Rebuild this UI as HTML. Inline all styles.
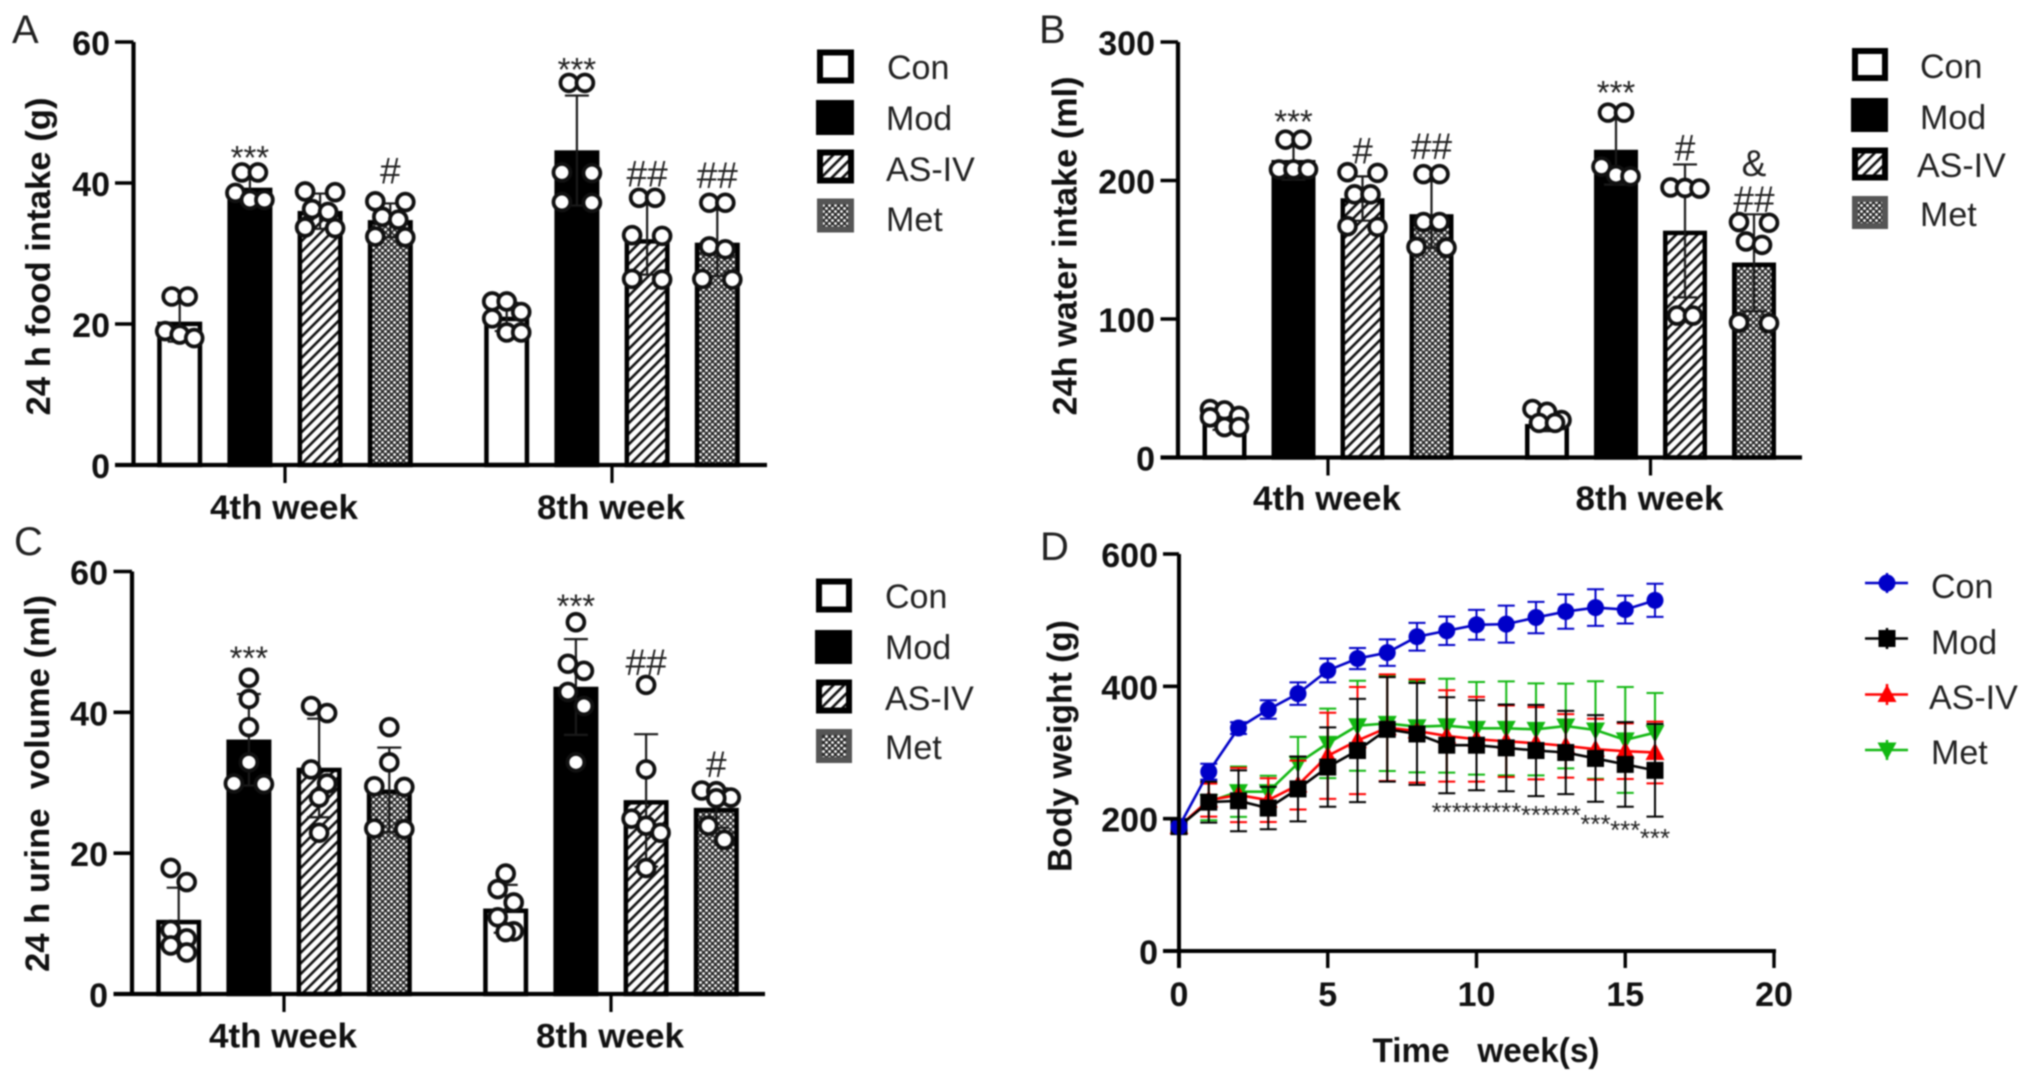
<!DOCTYPE html>
<html lang="en">
<head>
<meta charset="utf-8">
<title>Four-panel intake and body weight chart</title>
<style>
html,body{margin:0;padding:0;background:#fff;width:2031px;height:1082px;overflow:hidden}
svg{display:block;filter:blur(0.7px)}
text{font-family:"Liberation Sans",Arial,sans-serif;fill:#111}
.tick{font-weight:bold;font-size:34px}
.cat{font-weight:bold;font-size:34px;text-anchor:middle}
.title{font-weight:bold;font-size:34px;text-anchor:middle}
.leg{font-size:34px;fill:#222}
.letter{font-size:40px;fill:#222}
</style>
</head>
<body>
<svg id="figure" xmlns="http://www.w3.org/2000/svg" width="2031" height="1082" viewBox="0 0 2031 1082">
<defs>
<pattern id="hatch" width="7.5" height="7.5" patternUnits="userSpaceOnUse" patternTransform="rotate(45)">
<rect width="7.5" height="7.5" fill="#fff"/><rect width="2.6" height="7.5" fill="#111"/>
</pattern>
<pattern id="dots" width="6" height="6" patternUnits="userSpaceOnUse">
<rect width="6" height="6" fill="#2a2a2a"/><circle cx="1.5" cy="1.5" r="1.4" fill="#fff"/><circle cx="4.5" cy="4.5" r="1.4" fill="#fff"/>
</pattern>
</defs>
<rect width="2031" height="1082" fill="#fff"/>

<text class="letter" x="12" y="43">A</text>
<text class="letter" x="1039" y="43">B</text>
<text class="letter" x="14" y="555">C</text>
<text class="letter" x="1040" y="560">D</text>

<text class="title" transform="translate(50,256.5) rotate(-90)" textLength="318" lengthAdjust="spacingAndGlyphs">24 h food intake (g)</text>
<text class="title" transform="translate(1076.5,246) rotate(-90)" textLength="339" lengthAdjust="spacingAndGlyphs">24h water intake (ml)</text>
<text class="title" xml:space="preserve" transform="translate(49,783.5) rotate(-90)" textLength="377" lengthAdjust="spacingAndGlyphs">24 h urine  volume (ml)</text>
<text class="title" transform="translate(1071.5,746) rotate(-90)" textLength="252" lengthAdjust="spacingAndGlyphs">Body weight (g)</text>
<text class="title" xml:space="preserve" x="1486" y="1062" textLength="227" lengthAdjust="spacingAndGlyphs">Time   week(s)</text>

<g>
<rect x="820" y="52.5" width="31" height="28" fill="#fff" stroke="#000" stroke-width="6"/>
<rect x="816" y="100" width="38" height="35" fill="#000"/>
<rect x="820" y="152.5" width="31" height="28" fill="url(#hatch)" stroke="#000" stroke-width="6"/>
<rect x="820" y="201.5" width="31" height="28" fill="url(#dots)" stroke="#555" stroke-width="6"/>
<text class="leg" x="887" y="79">Con</text>
<text class="leg" x="886" y="130">Mod</text>
<text class="leg" x="886" y="181">AS-IV</text>
<text class="leg" x="886" y="231">Met</text>
</g>
<g>
<rect x="1855" y="51" width="30" height="27" fill="#fff" stroke="#000" stroke-width="6"/>
<rect x="1851" y="98" width="37" height="34" fill="#000"/>
<rect x="1855" y="150.5" width="30" height="27" fill="url(#hatch)" stroke="#000" stroke-width="6"/>
<rect x="1855" y="199" width="30" height="27" fill="url(#dots)" stroke="#555" stroke-width="6"/>
<text class="leg" x="1920" y="78">Con</text>
<text class="leg" x="1920" y="129">Mod</text>
<text class="leg" x="1917" y="177">AS-IV</text>
<text class="leg" x="1920" y="226">Met</text>
</g>
<g>
<rect x="819" y="581.5" width="30" height="28" fill="#fff" stroke="#000" stroke-width="6"/>
<rect x="815" y="630" width="37" height="34" fill="#000"/>
<rect x="819" y="682.5" width="30" height="28" fill="url(#hatch)" stroke="#000" stroke-width="6"/>
<rect x="819" y="732" width="30" height="28" fill="url(#dots)" stroke="#555" stroke-width="6"/>
<text class="leg" x="885" y="608">Con</text>
<text class="leg" x="885" y="659">Mod</text>
<text class="leg" x="885" y="710">AS-IV</text>
<text class="leg" x="885" y="759">Met</text>
</g>
<g>
<path d="M1865 583H1908M1887 573V593" stroke="#0000c8" stroke-width="2.5" fill="none"/>
<circle cx="1887" cy="583" r="8.5" fill="#0000c8"/>
<path d="M1865 638.5H1908M1887 628V649" stroke="#000" stroke-width="2.5" fill="none"/>
<rect x="1878.5" y="630" width="17" height="17" fill="#000"/>
<path d="M1865 694.5H1908M1887 684V705" stroke="#f00" stroke-width="2.5" fill="none"/>
<path d="M1887 684.5L1896.5 702H1877.5Z" fill="#f00"/>
<path d="M1865 750H1908M1887 740V760" stroke="#12b812" stroke-width="2.5" fill="none"/>
<path d="M1887 760L1896.5 742.5H1877.5Z" fill="#12b812"/>
<text class="leg" x="1931" y="598">Con</text>
<text class="leg" x="1931" y="654">Mod</text>
<text class="leg" x="1929" y="709">AS-IV</text>
<text class="leg" x="1931" y="764">Met</text>
</g>
</svg>

<script>
/* ---------- shared categories ---------- */
const groupLabels = ['4th week', '8th week'];
const barSeries = ['con', 'mod', 'as-iv', 'met'];

/* ---------- Panel A: 24 h food intake (bars in order: 4 for 4th week, 4 for 8th week) ---------- */
const foodTicks = [0, 20, 40, 60];
const foodMeans = [20.3, 39.3, 36, 34.7, 21, 44.6, 32, 31.5];
const foodSDs = [2.8, 1.6, 2.5, 2.4, 2, 7.8, 5, 4.7];
const foodPoints = [
  [23.9, 23.9, 19, 18.5, 18],
  [41.5, 41.5, 38.6, 37.6, 37.6],
  [38.8, 38.7, 36.3, 35.9, 33.7, 33.6],
  [37.4, 37.3, 35.2, 34.8, 32.4, 32.3],
  [23.2, 23.2, 21.7, 20.8, 18.8, 18.8],
  [54.2, 54.2, 41.5, 41.4, 37.3, 37.2],
  [37.9, 37.9, 32.6, 32.5, 26.4, 26.3],
  [37.2, 37.2, 31, 30.6, 26.4, 26.3]
];
const foodSigBars = [1, 3, 5, 6, 7];
const foodSigLabels = ['***', '#', '***', '##', '##'];
const foodSigLevels = [44.7, 41.8, 57.2, 41.4, 41.2];

/* ---------- Panel B: 24 h water intake ---------- */
const waterTicks = [0, 100, 200, 300];
const waterMeans = [25, 214.6, 187, 175.5, 24, 222, 163.6, 140.6];
const waterSDs = [5, 14, 16, 24, 5, 25, 48, 35];
const waterPoints = [
  [35, 34, 30, 29, 22, 22],
  [229.5, 229.5, 208, 208, 208],
  [206, 205.5, 190, 190, 167, 166.5],
  [204.6, 204.6, 170, 170, 152, 151.5],
  [35, 33, 27, 25, 25],
  [249, 249, 210, 204, 203],
  [195, 194.6, 194.2, 102.5, 102.5],
  [170, 169.5, 156, 153.5, 97.5, 97]
];
const waterSigBars = [1, 2, 3, 5, 6, 7, 7];
const waterSigLabels = ['***', '#', '##', '***', '#', '&', '##'];
const waterSigLevels = [248, 222, 225, 269, 224, 213, 187];

/* ---------- Panel C: 24 h urine volume ---------- */
const urineTicks = [0, 20, 40, 60];
const urineMeans = [10.5, 36.1, 32.1, 29, 12.1, 43.6, 27.5, 26.4];
const urineSDs = [4.6, 6.5, 7, 6, 3.4, 6.8, 9.4, 2.8];
const urinePoints = [
  [17.9, 15.9, 9.1, 7.9, 6.9, 5.9],
  [44.9, 41.9, 37.9, 32.9, 29.9, 29.8],
  [40.9, 39.9, 31.9, 29.9, 27.9, 22.9],
  [37.9, 32.9, 29.5, 29.4, 23.5, 23.4],
  [17.1, 14.9, 13, 10.9, 8.9, 8.8],
  [52.8, 46.9, 45.9, 42.9, 40.9, 32.9],
  [43.9, 31.9, 24.9, 23.9, 22.9, 17.9],
  [28.9, 28.8, 27.9, 27.8, 23.9, 21.9]
];
const urineSigBars = [1, 5, 6, 7];
const urineSigLabels = ['***', '***', '##', '#'];
const urineSigLevels = [48.8, 56.2, 47.2, 32.7];

/* ---------- Panel D: body weight over time ---------- */
const weightWeeks = [0, 1, 2, 3, 4, 5, 6, 7, 8, 9, 10, 11, 12, 13, 14, 15, 16];
const weightXTicks = [0, 5, 10, 15, 20];
const weightYTicks = [0, 200, 400, 600];
const conWeight = [188, 271, 337, 365, 389, 424, 442, 451, 475, 484, 493, 494, 504, 513, 519, 516, 530];
const conWeightSD = [0, 12, 9, 14, 17, 18, 16, 20, 21, 21.6, 22.6, 28, 23.7, 26, 27.7, 21, 25];
const modWeight = [188, 225, 227, 216, 245, 278, 303, 335, 328, 311, 311, 307, 303, 300, 291, 282, 273];
const modWeightSD = [0, 31, 46, 32, 49, 60, 78, 79, 77, 72.5, 68, 65.5, 69, 63, 65.5, 64, 70];
const asivWeight = [188, 228, 235.8, 228, 250.8, 295, 318, 337.5, 332.5, 325, 320, 317, 314, 310, 305, 302, 300];
const asivWeightSD = [0, 25, 41, 33, 37, 65, 81, 80.6, 78, 69, 64, 54, 54.6, 48, 46, 42, 46.6];
const metWeight = [188, 225.7, 240.8, 240.8, 283.6, 313.8, 340.5, 344, 339, 340.5, 336.5, 336.5, 335, 340, 334, 319, 330];
const metWeightSD = [0, 28, 38, 24, 40, 52.6, 68, 72, 69, 71, 70, 71, 69.5, 64, 73.6, 80, 60];
const weightSigWeeks = [9, 10, 11, 12, 13, 14, 15, 16];
const weightSigLevels = [219.6, 219.6, 219.6, 214.6, 214.6, 201, 192, 180];
const weightSigLabel = '***';

/* ---------- drawing helpers ---------- */
const NS = 'http://www.w3.org/2000/svg';
const figure = document.getElementById('figure');

function make(tag, attrs, parent) {
  const node = document.createElementNS(NS, tag);
  for (const key in attrs) node.setAttribute(key, attrs[key]);
  parent.appendChild(node);
  return node;
}

function linear(d0, d1, r0, r1) {
  return v => r0 + (v - d0) * (r1 - r0) / (d1 - d0);
}

function swarmRows(values, yOf) {
  const rows = [];
  values.forEach(v => {
    const py = yOf(v);
    const last = rows[rows.length - 1];
    if (last && last.length < 3 && py - yOf(last[0]) <= 14.5) last.push(v);
    else rows.push([v]);
  });
  return rows;
}

function rowOffsets(row, yOf) {
  if (row.length === 1) return [0];
  if (row.length === 3) return [-14.5, 0, 14.5];
  const diff = Math.abs(yOf(row[0]) - yOf(row[1]));
  const half = (diff > 0 && diff < 1.5) ? 15 : 8;
  return [-half, half];
}

function sigBaseline(label, yc, size) {
  return yc + (label.charAt(0) === '*' ? 0.58 : 0.36) * size;
}

function drawBarPanel(p, key, ticks, means, sds, points, sigBars, sigLabels, sigLevels) {
  const y = linear(0, ticks[ticks.length - 1], p.y0, p.yTop);
  const g = make('g', {}, figure);
  
  

  const barCenter = i => p.centers[i < 4 ? 0 : 1] + ((i % 4) - 1.5) * p.step;
  const barStroke = 4.5;
  const inner = p.barW - barStroke;
  const topInset = 2;

  means.forEach((m, i) => {
    const cx = barCenter(i);
    const s = barSeries[i % 4];
    const fill = s === 'con' ? '#fff' : s === 'mod' ? '#000' : s === 'as-iv' ? 'url(#hatch)' : 'url(#dots)';
    const bar = make('rect', { x: cx - inner / 2, y: y(m) + topInset, width: inner, height: p.y0 - y(m) - topInset, fill: fill, stroke: '#000', 'stroke-width': barStroke }, g);
    
    
  });

  sds.forEach((sd, i) => {
    const cx = barCenter(i);
    const hi = y(means[i] + sd), lo = y(means[i] - sd);
    const err = make('path', { d: 'M' + cx + ' ' + hi + 'V' + lo + 'M' + (cx - 12) + ' ' + hi + 'H' + (cx + 12) + 'M' + (cx - 12) + ' ' + lo + 'H' + (cx + 12), stroke: '#1a1a1a', 'stroke-width': 2.2, fill: 'none' }, g);
    
    
  });

  points.forEach((vals, i) => {
    const cx = barCenter(i);
    swarmRows(vals, y).forEach(row => {
      const offs = rowOffsets(row, y);
      row.forEach((v, j) => {
        const dot = make('circle', { cx: cx + offs[j], cy: y(v), r: 8.4, fill: '#fff', stroke: '#111', 'stroke-width': 3.8 }, g);
        
        
      });
    });
  });

  sigBars.forEach((b, i) => {
    const label = sigLabels[i];
    const size = label.charAt(0) === '*' ? 33 : 37;
    const sig = make('text', { x: barCenter(b), y: sigBaseline(label, y(sigLevels[i]), size), 'text-anchor': 'middle', 'font-size': size, style: 'fill:#222' }, g);
    sig.textContent = label;
    
    
  });

  const axisY = make('path', { d: 'M' + p.axisX + ' ' + p.yTop + 'V' + p.y0, stroke: '#000', 'stroke-width': 4.2, fill: 'none' }, g);
  
  
  const axisX = make('path', { d: 'M' + p.tickLeft + ' ' + p.y0 + 'H' + p.xEnd, stroke: '#000', 'stroke-width': 4.2, fill: 'none' }, g);
  
  

  ticks.forEach(t => {
    const mark = make('path', { d: 'M' + p.tickLeft + ' ' + y(t) + 'H' + p.axisX, stroke: '#000', 'stroke-width': 3.6, fill: 'none' }, g);
    
    
    const lab = make('text', { class: 'tick', x: p.labelRight, y: y(t) + 13, 'text-anchor': 'end' }, g);
    lab.textContent = t;
    
    
  });

  groupLabels.forEach((name, i) => {
    const mark = make('path', { d: 'M' + p.centers[i] + ' ' + p.y0 + 'V' + (p.y0 + 18), stroke: '#000', 'stroke-width': 3.2, fill: 'none' }, g);
    
    
    const lab = make('text', { class: 'cat', x: p.centers[i] - 1, y: p.catY, textLength: 148, lengthAdjust: 'spacingAndGlyphs' }, g);
    lab.textContent = name;
    
    
  });
}

function trianglePath(cx, cy, up) {
  const s = up ? 1 : -1;
  return 'M' + cx + ' ' + (cy - 10 * s) + 'L' + (cx + 9.5) + ' ' + (cy + 7.5 * s) + 'H' + (cx - 9.5) + 'Z';
}

function drawLinePanel() {
  const x = linear(0, 20, 1179, 1774);
  const y = linear(0, 600, 951, 554);
  const g = make('g', {}, figure);
  
  

  const drawSeries = (name, color, values, sds, shape) => {
    const sg = make('g', {}, g);
    
    
    values.forEach((v, i) => {
      const cx = x(weightWeeks[i]);
      const hi = y(v + sds[i]), lo = y(v - sds[i]);
      const err = make('path', { d: 'M' + cx + ' ' + hi + 'V' + lo + 'M' + (cx - 8.5) + ' ' + hi + 'H' + (cx + 8.5) + 'M' + (cx - 8.5) + ' ' + lo + 'H' + (cx + 8.5), stroke: color, 'stroke-width': 2, fill: 'none' }, sg);
      
      
    });
    const line = make('polyline', { points: values.map((v, i) => x(weightWeeks[i]) + ',' + y(v)).join(' '), fill: 'none', stroke: color, 'stroke-width': 2.6 }, sg);
    
    
    values.forEach((v, i) => {
      const cx = x(weightWeeks[i]), cy = y(v);
      let m;
      if (shape === 'circle') m = make('circle', { cx: cx, cy: cy, r: 8.5, fill: color }, sg);
      else if (shape === 'square') m = make('rect', { x: cx - 8.5, y: cy - 8.5, width: 17, height: 17, fill: color }, sg);
      else m = make('path', { d: trianglePath(cx, cy, shape === 'up'), fill: color }, sg);
      
      
    });
  };

  drawSeries('met', '#12b812', metWeight, metWeightSD, 'down');
  drawSeries('as-iv', '#ff0000', asivWeight, asivWeightSD, 'up');
  drawSeries('mod', '#000000', modWeight, modWeightSD, 'square');
  drawSeries('con', '#0000c8', conWeight, conWeightSD, 'circle');

  weightSigWeeks.forEach((w, i) => {
    const sig = make('text', { x: x(w), y: y(weightSigLevels[i]) + 0.58 * 26, 'text-anchor': 'middle', 'font-size': 26, style: 'fill:#222' }, g);
    sig.textContent = weightSigLabel;
    
    
  });

  const axisY = make('path', { d: 'M' + x(0) + ' ' + y(600) + 'V' + 968, stroke: '#000', 'stroke-width': 4, fill: 'none' }, g);
  
  
  const axisX = make('path', { d: 'M' + 1163 + ' ' + y(0) + 'H' + (x(20) + 2), stroke: '#000', 'stroke-width': 4, fill: 'none' }, g);
  
  

  weightYTicks.forEach(t => {
    const mark = make('path', { d: 'M1163 ' + y(t) + 'H' + x(0), stroke: '#000', 'stroke-width': 3.6, fill: 'none' }, g);
    
    
    const lab = make('text', { class: 'tick', x: 1158, y: y(t) + 13, 'text-anchor': 'end' }, g);
    lab.textContent = t;
    
    
  });

  weightXTicks.forEach(t => {
    const mark = make('path', { d: 'M' + x(t) + ' ' + y(0) + 'V968', stroke: '#000', 'stroke-width': 3.4, fill: 'none' }, g);
    
    
    const lab = make('text', { class: 'tick', x: x(t), y: 1006, 'text-anchor': 'middle' }, g);
    lab.textContent = t;
    
    
  });
}

/* ---------- panels ---------- */
drawBarPanel({ axisX: 133.5, tickLeft: 115, xEnd: 767, y0: 465, yTop: 42, labelRight: 110, centers: [285, 612], step: 70.2, barW: 45, catY: 519 },
  'a', foodTicks, foodMeans, foodSDs, foodPoints, foodSigBars, foodSigLabels, foodSigLevels);
drawBarPanel({ axisX: 1178, tickLeft: 1160.5, xEnd: 1802, y0: 457.5, yTop: 42, labelRight: 1155, centers: [1328, 1650.5], step: 69, barW: 44, catY: 510 },
  'b', waterTicks, waterMeans, waterSDs, waterPoints, waterSigBars, waterSigLabels, waterSigLevels);
drawBarPanel({ axisX: 132, tickLeft: 113.5, xEnd: 765, y0: 994, yTop: 571.5, labelRight: 108, centers: [284, 611], step: 70.2, barW: 45, catY: 1047.5 },
  'c', urineTicks, urineMeans, urineSDs, urinePoints, urineSigBars, urineSigLabels, urineSigLevels);
drawLinePanel();
</script>
</body>
</html>
